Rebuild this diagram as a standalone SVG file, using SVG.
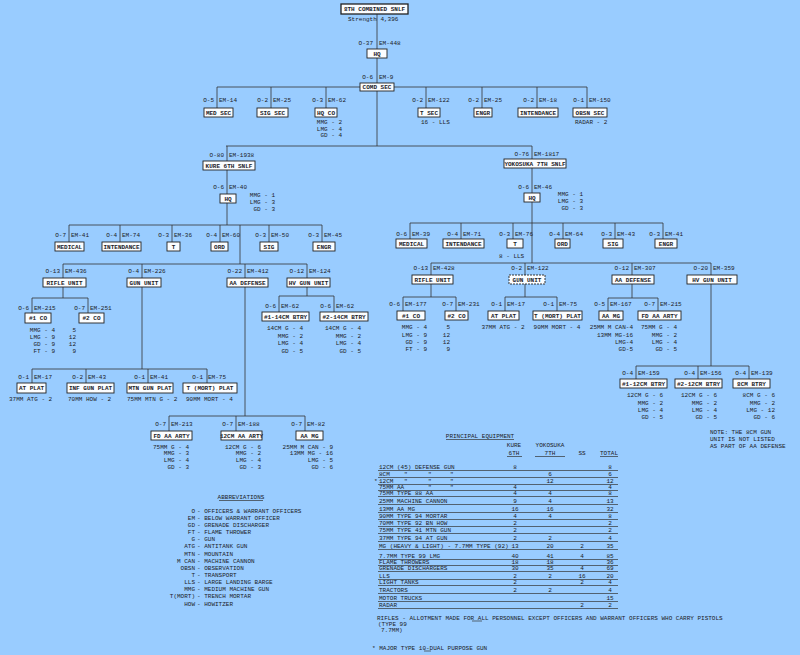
<svg xmlns="http://www.w3.org/2000/svg" width="800" height="655" viewBox="0 0 800 655">
<style>
text{font-family:'Liberation Mono','DejaVu Sans Mono',monospace;font-size:6px;fill:#1c1c28}
.bl{font-weight:bold;text-anchor:middle}
.e{text-anchor:end}
.m{text-anchor:middle}
.t{font-size:5.5px}
.f{font-size:5.8px}
rect.b{fill:#fbfdff;stroke:#222;stroke-width:0.9}
.ln{stroke:#333;stroke-width:0.8;fill:none}
.rl{stroke:#333;stroke-width:0.7;fill:none}
</style>
<rect x="0" y="0" width="800" height="655" fill="#99CCFF"/>

<g id="connectors" class="ln">
<path d="M377 14V49M377 58V83M217 87H587M217 87V108M271 87V108M326 87V108M426 87V108M482 87V108M537 87V108M587 87V108M377 91V146M226 146H532M227 146V161M532 146V159"/>
<path d="M227 170V194M227 203V225M69 225H322M69 225V242M120 225V242M172 225V242M220 225V242M269 225V242M322 225V242M240 225V264M63 264H307M63 264V278M142 264V278M245 264V278M307 264V278"/>
<path d="M63 287V298M32 298H88M32 298V313M88 298V313M142 287V369M32 369H207M32 369V383M86 369V383M148 369V383M207 369V383M245 287V416M169 416H305M169 416V431M236 416V431M305 416V431M307 287V296M279 296H334M279 296V312M334 296V312"/>
<path d="M532 168V193M532 202V263M410 223H663M410 223V239M461 223V239M513 223V239M563 223V239M615 223V239M663 223V239M431 263H711M431 263V275M525 263V275M632 263V275M711 263V275"/>
<path d="M431 284V297M403 297H456M403 297V311M456 297V311M525 284V297M505 297H557M505 297V311M557 297V311M632 284V298M608 298H658M608 298V311M658 298V311M711 284V366M636 366H749M636 366V379M698 366V379M749 366V379"/>
</g>

<g id="n-top"><rect class="b" x="341" y="4" width="67" height="10" style="stroke-width:1.3"/><text class="bl" x="374.5" y="11.3">8TH COMBINED SNLF</text><text x="348" y="21">Strength  4,396</text></g>
<g id="n-hq"><rect class="b" x="367" y="49" width="20" height="9"/><text class="bl" x="377" y="55.8">HQ</text><text class="e" x="373" y="45">O-37</text><text x="379" y="45">EM-448</text></g>
<g id="n-comd"><rect class="b" x="360" y="83" width="34" height="8"/><text class="bl" x="377" y="89.3">COMD SEC</text><text class="e" x="373" y="79">O-6</text><text x="379" y="79">EM-9</text></g>
<g id="n-medsec"><rect class="b" x="204" y="108" width="29" height="9"/><text class="bl" x="218.5" y="114.8">MED SEC</text><text class="e" x="214" y="102">O-5</text><text x="219" y="102">EM-14</text></g>
<g id="n-sigsec"><rect class="b" x="257" y="108" width="31" height="9"/><text class="bl" x="272.5" y="114.8">SIG SEC</text><text class="e" x="268" y="102">O-2</text><text x="273" y="102">EM-25</text></g>
<g id="n-hqco"><rect class="b" x="315" y="108" width="22" height="9"/><text class="bl" x="326" y="114.8">HQ CO</text><text class="e" x="323" y="102">O-3</text><text x="328" y="102">EM-62</text><text class="e" x="342" y="124">MMG - 2</text><text class="e" x="342" y="131">LMG - 4</text><text class="e" x="342" y="137">GD - 4</text></g>
<g id="n-tsec"><rect class="b" x="418" y="108" width="22" height="9"/><text class="bl" x="429" y="114.8">T SEC</text><text class="e" x="423" y="102">O-2</text><text x="428" y="102">EM-122</text><text x="421" y="124">16 - LLS</text></g>
<g id="n-engr"><rect class="b" x="474" y="108" width="18" height="9"/><text class="bl" x="483" y="114.8">ENGR</text><text class="e" x="479" y="102">O-2</text><text x="484" y="102">EM-25</text></g>
<g id="n-intend"><rect class="b" x="518" y="108" width="40" height="9"/><text class="bl" x="538" y="114.8">INTENDANCE</text><text class="e" x="534" y="102">O-2</text><text x="539" y="102">EM-18</text></g>
<g id="n-obsn"><rect class="b" x="573" y="108" width="34" height="9"/><text class="bl" x="590" y="114.8">OBSN SEC</text><text class="e" x="584" y="102">O-1</text><text x="589" y="102">EM-150</text><text x="575" y="124">RADAR - 2</text></g>

<g id="n-kure"><rect class="b" x="203" y="161" width="52" height="9"/><text class="bl" x="229" y="167.8">KURE 6TH SNLF</text><text class="e" x="224" y="157">O-80</text><text x="229" y="157">EM-1938</text></g>
<g id="n-kure-hq"><rect class="b" x="220" y="194" width="16" height="9"/><text class="bl" x="228" y="200.8">HQ</text><text class="e" x="224" y="189">O-6</text><text x="229" y="189">EM-40</text><text class="e" x="275" y="197">MMG - 1</text><text class="e" x="275" y="204">LMG - 3</text><text class="e" x="275" y="211">GD - 3</text></g>
<g id="n-kure-med"><rect class="b" x="55" y="242" width="29" height="9"/><text class="bl" x="69.5" y="248.8">MEDICAL</text><text class="e" x="66" y="237">O-7</text><text x="71" y="237">EM-41</text></g>
<g id="n-kure-int"><rect class="b" x="102" y="242" width="39" height="9"/><text class="bl" x="121.5" y="248.8">INTENDANCE</text><text class="e" x="117" y="237">O-4</text><text x="122" y="237">EM-74</text></g>
<g id="n-kure-t"><rect class="b" x="167" y="242" width="13" height="9"/><text class="bl" x="173.5" y="248.8">T</text><text class="e" x="169" y="237">O-3</text><text x="174" y="237">EM-36</text></g>
<g id="n-kure-ord"><rect class="b" x="211" y="242" width="17" height="9"/><text class="bl" x="219.5" y="248.8">ORD</text><text class="e" x="217" y="237">O-4</text><text x="222" y="237">EM-60</text></g>
<g id="n-kure-sig"><rect class="b" x="260" y="242" width="18" height="9"/><text class="bl" x="269" y="248.8">SIG</text><text class="e" x="266" y="237">O-3</text><text x="271" y="237">EM-50</text></g>
<g id="n-kure-engr"><rect class="b" x="313" y="242" width="22" height="9"/><text class="bl" x="324" y="248.8">ENGR</text><text class="e" x="319" y="237">O-3</text><text x="324" y="237">EM-45</text></g>
<g id="n-kure-rifle"><rect class="b" x="43" y="278" width="43" height="9"/><text class="bl" x="64.5" y="284.8">RIFLE UNIT</text><text class="e" x="60" y="273">O-13</text><text x="65" y="273">EM-436</text></g>
<g id="n-kure-gun"><rect class="b" x="127" y="278" width="34" height="9"/><text class="bl" x="144" y="284.8">GUN UNIT</text><text class="e" x="139" y="273">O-4</text><text x="144" y="273">EM-226</text></g>
<g id="n-kure-aa"><rect class="b" x="227" y="278" width="41" height="9"/><text class="bl" x="247.5" y="284.8">AA DEFENSE</text><text class="e" x="242" y="273">O-22</text><text x="247" y="273">EM-412</text></g>
<g id="n-kure-hv"><rect class="b" x="287" y="278" width="43" height="9"/><text class="bl" x="308.5" y="284.8">HV GUN UNIT</text><text class="e" x="304" y="273">O-12</text><text x="309" y="273">EM-124</text></g>
<g id="n-kure-co1"><rect class="b" x="25" y="313" width="26" height="10"/><text class="bl" x="38" y="320.3">#1 CO</text><text class="e" x="29" y="310">O-6</text><text x="34" y="310">EM-215</text><text class="e" x="55" y="332">MMG - 4</text><text class="e" x="55" y="339">LMG - 9</text><text class="e" x="55" y="346">GD - 9</text><text class="e" x="55" y="353">FT - 9</text></g>
<g id="n-kure-co2"><rect class="b" x="79" y="313" width="25" height="10"/><text class="bl" x="91.5" y="320.3">#2 CO</text><text class="e" x="85" y="310">O-7</text><text x="90" y="310">EM-251</text><text class="e" x="76" y="332">5</text><text class="e" x="76" y="339">12</text><text class="e" x="76" y="346">12</text><text class="e" x="76" y="353">9</text></g>
<g id="n-kure-at"><rect class="b" x="17" y="383" width="29" height="10"/><text class="bl" x="31.5" y="390.3">AT PLAT</text><text class="e" x="29" y="379">O-1</text><text x="34" y="379">EM-17</text><text x="9" y="401">37MM ATG - 2</text></g>
<g id="n-kure-inf"><rect class="b" x="67" y="383" width="47" height="10"/><text class="bl" x="90.5" y="390.3">INF GUN PLAT</text><text class="e" x="83" y="379">O-2</text><text x="88" y="379">EM-43</text><text x="68" y="401">70MM HOW - 2</text></g>
<g id="n-kure-mtn"><rect class="b" x="127" y="383" width="46" height="10"/><text class="bl" x="150" y="390.3">MTN GUN PLAT</text><text class="e" x="145" y="379">O-1</text><text x="150" y="379">EM-41</text><text x="127" y="401">75MM MTN G - 2</text></g>
<g id="n-kure-mort"><rect class="b" x="183" y="383" width="54" height="10"/><text class="bl" x="210" y="390.3">T (MORT) PLAT</text><text class="e" x="203" y="379">O-1</text><text x="208" y="379">EM-75</text><text x="186" y="401">90MM MORT - 4</text></g>
<g id="n-kure-fdaa"><rect class="b" x="151" y="431" width="41" height="9"/><text class="bl" x="171.5" y="437.8">FD AA ARTY</text><text class="e" x="166" y="426">O-7</text><text x="171" y="426">EM-213</text><text class="e" x="189" y="449">75MM G - 4</text><text class="e" x="189" y="455">MMG - 3</text><text class="e" x="189" y="462">LMG - 4</text><text class="e" x="189" y="469">GD - 3</text></g>
<g id="n-kure-12aa"><rect class="b" x="221" y="431" width="41" height="9"/><text class="bl" x="241.5" y="437.8">12CM AA ARTY</text><text class="e" x="233" y="426">O-7</text><text x="238" y="426">EM-188</text><text class="e" x="261" y="449">12CM G - 6</text><text class="e" x="261" y="455">MMG - 2</text><text class="e" x="261" y="462">LMG - 4</text><text class="e" x="261" y="469">GD - 3</text></g>
<g id="n-kure-aamg"><rect class="b" x="296" y="431" width="27" height="9"/><text class="bl" x="309.5" y="437.8">AA MG</text><text class="e" x="302" y="426">O-7</text><text x="307" y="426">EM-82</text><text class="e" x="333" y="449">25MM M CAN - 9</text><text class="e" x="333" y="455">13MM MG - 16</text><text class="e" x="333" y="462">LMG - 5</text><text class="e" x="333" y="469">GD - 6</text></g>
<g id="n-kure-b1"><rect class="b" x="262" y="312" width="47" height="9"/><text class="bl" x="285.5" y="318.8">#1-14CM BTRY</text><text class="e" x="276" y="308">O-6</text><text x="281" y="308">EM-62</text><text class="e" x="303" y="330">14CM G - 4</text><text class="e" x="303" y="338">MMG - 2</text><text class="e" x="303" y="345">LMG - 4</text><text class="e" x="303" y="353">GD - 5</text></g>
<g id="n-kure-b2"><rect class="b" x="320" y="312" width="48" height="9"/><text class="bl" x="344" y="318.8">#2-14CM BTRY</text><text class="e" x="331" y="308">O-6</text><text x="336" y="308">EM-62</text><text class="e" x="361" y="330">14CM G - 4</text><text class="e" x="361" y="338">MMG - 2</text><text class="e" x="361" y="345">LMG - 4</text><text class="e" x="361" y="353">GD - 5</text></g>

<g id="n-yoko"><rect class="b" x="504" y="159" width="62" height="9"/><text class="bl" x="535" y="165.8">YOKOSUKA 7TH SNLF</text><text class="e" x="529" y="156">O-76</text><text x="534" y="156">EM-1817</text></g>
<g id="n-yoko-hq"><rect class="b" x="524" y="193" width="16" height="9"/><text class="bl" x="532" y="199.8">HQ</text><text class="e" x="529" y="189">O-6</text><text x="534" y="189">EM-46</text><text class="e" x="583" y="196">MMG - 1</text><text class="e" x="583" y="203">LMG - 3</text><text class="e" x="583" y="210">GD - 3</text></g>
<g id="n-yoko-med"><rect class="b" x="396" y="239" width="31" height="9"/><text class="bl" x="411.5" y="245.8">MEDICAL</text><text class="e" x="407" y="236">O-6</text><text x="412" y="236">EM-39</text></g>
<g id="n-yoko-int"><rect class="b" x="443" y="239" width="41" height="9"/><text class="bl" x="463.5" y="245.8">INTENDANCE</text><text class="e" x="458" y="236">O-4</text><text x="463" y="236">EM-71</text></g>
<g id="n-yoko-t"><rect class="b" x="507" y="239" width="16" height="9"/><text class="bl" x="515" y="245.8">T</text><text class="e" x="510" y="236">O-3</text><text x="515" y="236">EM-76</text><text x="499" y="258">8 - LLS</text></g>
<g id="n-yoko-ord"><rect class="b" x="555" y="239" width="15" height="9"/><text class="bl" x="562.5" y="245.8">ORD</text><text class="e" x="560" y="236">O-4</text><text x="565" y="236">EM-64</text></g>
<g id="n-yoko-sig"><rect class="b" x="603" y="239" width="20" height="9"/><text class="bl" x="613" y="245.8">SIG</text><text class="e" x="612" y="236">O-3</text><text x="617" y="236">EM-43</text></g>
<g id="n-yoko-engr"><rect class="b" x="655" y="239" width="22" height="9"/><text class="bl" x="666" y="245.8">ENGR</text><text class="e" x="660" y="236">O-3</text><text x="665" y="236">EM-41</text></g>
<g id="n-yoko-rifle"><rect class="b" x="412" y="275" width="41" height="9"/><text class="bl" x="432.5" y="281.8">RIFLE UNIT</text><text class="e" x="428" y="270">O-13</text><text x="433" y="270">EM-428</text></g>
<g id="n-yoko-gun"><rect class="b" x="509" y="275" width="36" height="9" style="stroke-dasharray:2 1"/><text class="bl" x="527" y="281.8">GUN UNIT</text><text class="e" x="522" y="270">O-2</text><text x="527" y="270">EM-122</text></g>
<g id="n-yoko-aa"><rect class="b" x="612" y="275" width="42" height="9"/><text class="bl" x="633" y="281.8">AA DEFENSE</text><text class="e" x="629" y="270">O-12</text><text x="634" y="270">EM-307</text></g>
<g id="n-yoko-hv"><rect class="b" x="687" y="275" width="50" height="9"/><text class="bl" x="712" y="281.8">HV GUN UNIT</text><text class="e" x="708" y="270">O-20</text><text x="713" y="270">EM-359</text></g>
<g id="n-yoko-co1"><rect class="b" x="397" y="311" width="28" height="9"/><text class="bl" x="411" y="317.8">#1 CO</text><text class="e" x="400" y="306">O-6</text><text x="405" y="306">EM-177</text><text class="e" x="427" y="329">MMG - 4</text><text class="e" x="427" y="337">LMG - 9</text><text class="e" x="427" y="344">GD - 9</text><text class="e" x="427" y="351">FT - 9</text></g>
<g id="n-yoko-co2"><rect class="b" x="445" y="311" width="23" height="9"/><text class="bl" x="456.5" y="317.8">#2 CO</text><text class="e" x="453" y="306">O-7</text><text x="458" y="306">EM-231</text><text class="e" x="450" y="329">5</text><text class="e" x="450" y="337">12</text><text class="e" x="450" y="344">12</text><text class="e" x="450" y="351">9</text></g>
<g id="n-yoko-at"><rect class="b" x="488" y="311" width="31" height="9"/><text class="bl" x="503.5" y="317.8">AT PLAT</text><text class="e" x="502" y="306">O-1</text><text x="507" y="306">EM-17</text><text class="m" x="503" y="329">37MM ATG - 2</text></g>
<g id="n-yoko-mort"><rect class="b" x="533" y="311" width="49" height="9"/><text class="bl" x="557.5" y="317.8">T (MORT) PLAT</text><text class="e" x="554" y="306">O-1</text><text x="559" y="306">EM-75</text><text class="m" x="557" y="329">90MM MORT - 4</text></g>
<g id="n-yoko-aamg"><rect class="b" x="599" y="311" width="24" height="9"/><text class="bl" x="611" y="317.8">AA MG</text><text class="e" x="605" y="306">O-5</text><text x="610" y="306">EM-167</text><text class="e" x="633" y="329">25MM M CAN-4</text><text class="e" x="633" y="337">13MM MG-16</text><text class="e" x="633" y="344">LMG-4</text><text class="e" x="633" y="351">GD-5</text></g>
<g id="n-yoko-fdaa"><rect class="b" x="638" y="311" width="43" height="9"/><text class="bl" x="659.5" y="317.8">FD AA ARTY</text><text class="e" x="655" y="306">O-7</text><text x="660" y="306">EM-215</text><text class="e" x="677" y="329">75MM G - 4</text><text class="e" x="677" y="337">MMG - 2</text><text class="e" x="677" y="344">LMG - 4</text><text class="e" x="677" y="351">GD - 5</text></g>
<g id="n-yoko-b1"><rect class="b" x="620" y="379" width="47" height="9"/><text class="bl" x="643.5" y="385.8">#1-12CM BTRY</text><text class="e" x="633" y="375">O-4</text><text x="638" y="375">EM-159</text><text class="e" x="663" y="397">12CM G - 6</text><text class="e" x="663" y="405">MMG - 2</text><text class="e" x="663" y="412">LMG - 4</text><text class="e" x="663" y="419">GD - 5</text></g>
<g id="n-yoko-b2"><rect class="b" x="675" y="379" width="47" height="9"/><text class="bl" x="698.5" y="385.8">#2-12CM BTRY</text><text class="e" x="695" y="375">O-4</text><text x="700" y="375">EM-156</text><text class="e" x="717" y="397">12CM G - 6</text><text class="e" x="717" y="405">MMG - 2</text><text class="e" x="717" y="412">LMG - 4</text><text class="e" x="717" y="419">GD - 5</text></g>
<g id="n-yoko-b3"><rect class="b" x="733" y="379" width="37" height="9"/><text class="bl" x="751.5" y="385.8">8CM BTRY</text><text class="e" x="746" y="375">O-4</text><text x="751" y="375">EM-139</text><text class="e" x="775" y="397">8CM G - 6</text><text class="e" x="775" y="405">MMG - 2</text><text class="e" x="775" y="412">LMG - 12</text><text class="e" x="775" y="419">GD - 6</text></g>
<g id="note"><text x="710" y="434">NOTE: THE 8CM GUN</text><text x="710" y="441">UNIT IS NOT LISTED</text><text x="710" y="448">AS PART OF AA DEFENSE</text></g>

<g id="table">
<text class="m" x="480" y="438">PRINCIPAL EQUIPMENT</text><path class="rl" d="M446 439.5H514"/>
<text class="m" x="514" y="447">KURE</text><text class="m" x="550" y="447">YOKOSUKA</text>
<text class="m" x="514" y="455">6TH</text><text class="m" x="550" y="455">7TH</text><text class="m" x="582" y="455">SS</text><text class="m" x="609" y="455">TOTAL</text>
<path class="rl" d="M507 456.5H522M535 456.5H565M600 456.5H618"/>
<g class="t">
<text x="379" y="469">12CM (45) DEFENSE GUN</text><text class="m" x="515" y="469">8</text><text class="m" x="610" y="469">8</text>
<text x="379" y="476">8CM</text><text x="404" y="476">"</text><text x="428" y="476">"</text><text x="450" y="476">"</text><text class="m" x="550" y="476">6</text><text class="m" x="610" y="476">6</text>
<text x="374" y="483">*</text><text x="379" y="483">12CM</text><text x="404" y="483">"</text><text x="428" y="483">"</text><text x="450" y="483">"</text><text class="m" x="550" y="483">12</text><text class="m" x="610" y="483">12</text>
<text x="379" y="489">75MM AA</text><text x="428" y="489">"</text><text x="450" y="489">"</text><text class="m" x="515" y="489">4</text><text class="m" x="610" y="489">4</text>
<text x="379" y="495">75MM TYPE 88 AA</text><text class="m" x="515" y="495">4</text><text class="m" x="550" y="495">4</text><text class="m" x="610" y="495">8</text>
<text x="379" y="503">25MM MACHINE CANNON</text><text class="m" x="515" y="503">9</text><text class="m" x="550" y="503">4</text><text class="m" x="610" y="503">13</text>
<text x="379" y="511">13MM AA MG</text><text class="m" x="515" y="511">16</text><text class="m" x="550" y="511">16</text><text class="m" x="610" y="511">32</text>
<text x="379" y="518">90MM TYPE 94 MORTAR</text><text class="m" x="515" y="518">4</text><text class="m" x="550" y="518">4</text><text class="m" x="610" y="518">8</text>
<text x="379" y="525">70MM TYPE 92 BN HOW</text><text class="m" x="515" y="525">2</text><text class="m" x="610" y="525">2</text>
<text x="379" y="532">75MM TYPE 41 MTN GUN</text><text class="m" x="515" y="532">2</text><text class="m" x="610" y="532">2</text>
<text x="379" y="540">37MM TYPE 94 AT GUN</text><text class="m" x="515" y="540">2</text><text class="m" x="550" y="540">2</text><text class="m" x="610" y="540">4</text>
<text x="379" y="548">MG (HEAVY &amp; LIGHT) - 7.7MM TYPE (92)</text><text class="m" x="515" y="548">13</text><text class="m" x="550" y="548">20</text><text class="m" x="582" y="548">2</text><text class="m" x="610" y="548">35</text>
<text x="379" y="558">7.7MM TYPE 99 LMG</text><text class="m" x="515" y="558">40</text><text class="m" x="550" y="558">41</text><text class="m" x="582" y="558">4</text><text class="m" x="610" y="558">85</text>
<text x="379" y="564">FLAME THROWERS</text><text class="m" x="515" y="564">18</text><text class="m" x="550" y="564">18</text><text class="m" x="610" y="564">36</text>
<text x="379" y="570">GRENADE DISCHARGERS</text><text class="m" x="515" y="570">30</text><text class="m" x="550" y="570">35</text><text class="m" x="582" y="570">4</text><text class="m" x="610" y="570">69</text>
<text x="379" y="578">LLS</text><text class="m" x="515" y="578">2</text><text class="m" x="550" y="578">2</text><text class="m" x="582" y="578">16</text><text class="m" x="610" y="578">20</text>
<text x="379" y="584">LIGHT TANKS</text><text class="m" x="515" y="584">2</text><text class="m" x="582" y="584">2</text><text class="m" x="610" y="584">4</text>
<text x="379" y="592">TRACTORS</text><text class="m" x="515" y="592">2</text><text class="m" x="550" y="592">2</text><text class="m" x="610" y="592">4</text>
<text x="379" y="600">MOTOR TRUCKS</text><text class="m" x="610" y="600">15</text>
<text x="379" y="607">RADAR</text><text class="m" x="582" y="607">2</text><text class="m" x="610" y="607">2</text>
</g>
<path class="rl" d="M378 470.5H618M378 477.5H618M378 484.5H618M378 490.5H618M378 496.5H618M378 504.5H618M378 512.5H618M378 519.5H618M378 526.5H618M378 533.5H618M378 541.5H618M378 549.5H618M378 559.5H618M378 565.5H618M378 571.5H618M378 579.5H618M378 585.5H618M378 593.5H618M378 601.5H618M378 608.5H618"/>
</g>

<g id="footnotes" class="f">
<text x="377" y="620">RIFLES - ALLOTMENT MADE FOR ALL PERSONNEL EXCEPT OFFICERS AND WARRANT OFFICERS WHO CARRY PISTOLS</text>
<path class="rl" d="M472 621H482"/>
<text x="378" y="625.5">(TYPE 99</text>
<text x="381" y="632">7.7MM)</text>
<text x="372" y="650">* MAJOR TYPE 10-DUAL PURPOSE GUN</text>
<path class="rl" d="M424 651H431"/>
</g>

<g id="abbreviations" class="f">
<text class="m" x="241" y="499">ABBREVIATIONS</text><path class="rl" d="M219 500.5H263"/>
<g class="e">
<text x="195" y="513">O</text><text x="195" y="520">EM</text><text x="195" y="527">GD</text><text x="195" y="534">FT</text><text x="195" y="541">G</text><text x="195" y="548">ATG</text><text x="195" y="556">MTN</text><text x="195" y="563">M CAN</text><text x="195" y="570">OBSN</text><text x="195" y="577">T</text><text x="195" y="584">LLS</text><text x="195" y="591">MMG</text><text x="195" y="598">T(MORT)</text><text x="195" y="606">HOW</text>
</g>
<text x="197" y="513">- OFFICERS &amp; WARRANT OFFICERS</text>
<text x="197" y="520">- BELOW WARRANT OFFICER</text>
<text x="197" y="527">- GRENADE DISCHARGER</text>
<text x="197" y="534">- FLAME THROWER</text>
<text x="197" y="541">- GUN</text>
<text x="197" y="548">- ANTITANK GUN</text>
<text x="197" y="556">- MOUNTAIN</text>
<text x="197" y="563">- MACHINE CANNON</text>
<text x="197" y="570">- OBSERVATION</text>
<text x="197" y="577">- TRANSPORT</text>
<text x="197" y="584">- LARGE LANDING BARGE</text>
<text x="197" y="591">- MEDIUM MACHINE GUN</text>
<text x="197" y="598">- TRENCH MORTAR</text>
<text x="197" y="606">- HOWITZER</text>
</g>
</svg>
